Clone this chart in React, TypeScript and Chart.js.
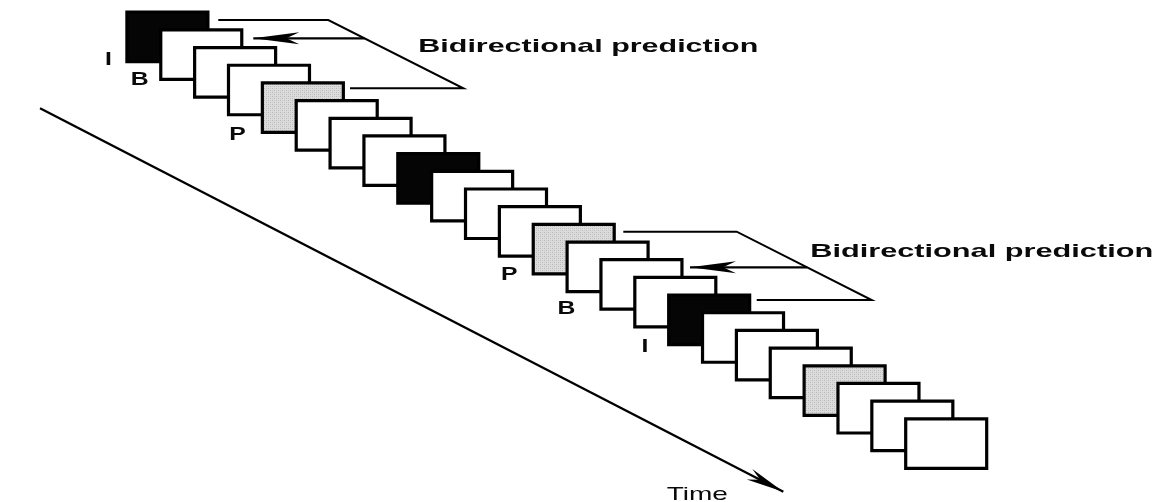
import React, { useEffect, useRef } from "react";
import { Chart, registerables } from "chart.js";

Chart.register(...registerables);

// ---------- data ----------
// frame sequence in time order (both axes advance one unit per frame)
const frameTimes = [0, 1, 2, 3, 4, 5, 6, 7, 8, 9, 10, 11, 12, 13, 14, 15, 16, 17, 18, 19, 20, 21, 22, 23];
const frameTypes = [
  "I", "B", "B", "B", "P", "B", "B", "B",
  "I", "B", "B", "B", "P", "B", "B", "B",
  "I", "B", "B", "B", "P", "B", "B", "B",
];
const frameLabelTexts = ["I", "B", "P", "P", "B", "I"];
const predictionTitles = ["Bidirectional prediction", "Bidirectional prediction"];
const timeAxisTitle = "Time";

// ---------- layout (axis units) ----------
const X_MIN = -3.748;
const X_MAX = 30.658;
const Y_MIN = -0.69;
const Y_MAX = 27.704;
const FRAME_W = 2.392;
const FRAME_H = 2.8;
const labelPos = [
  [-0.549, 2.986],
  [0.378, 4.118],
  [3.266, 7.229],
  [11.291, 15.147],
  [12.98, 17.087],
  [15.301, 19.203],
];
const titlePos = [
  { x: 13.627, y: 2.234, w: 10.04 },
  { x: 25.245, y: 13.829, w: 10.13 },
];
const timeTitlePos = { x: 16.846, y: 27.59, w: 1.81 };
const bracketPaths = [
  [[2.699, 0.441], [5.948, 0.441], [9.935, 4.304], [6.589, 4.304]],
  [[14.66, 12.415], [18.009, 12.415], [21.996, 16.278], [18.6, 16.278]],
];
const arrowPaths = [
  [[7.017, 1.476], [3.733, 1.476]],
  [[20.089, 14.429], [16.63, 14.429]],
];
const timeAxisPath = [[-2.566, 5.436], [19.386, 27.121]];

const FONT = '"Liberation Sans", Arial, Helvetica, sans-serif';

function makeStipple(): CanvasPattern | string {
  const c = document.createElement("canvas");
  c.width = 4;
  c.height = 4;
  const g = c.getContext("2d");
  if (!g) return "#d0d0d0";
  g.fillStyle = "#dcdcdc";
  g.fillRect(0, 0, 4, 4);
  g.fillStyle = "#b8b8b8";
  g.fillRect(0, 0, 1, 1);
  g.fillRect(2, 2, 1, 1);
  g.fillStyle = "#c8c8c8";
  g.fillRect(2, 0, 1, 1);
  g.fillRect(0, 2, 1, 1);
  const p = g.createPattern(c, "repeat");
  return p || "#d0d0d0";
}

function drawHead(ctx: CanvasRenderingContext2D, tx: number, ty: number, fx: number, fy: number, len: number, half: number, notch: number) {
  const ang = Math.atan2(ty - fy, tx - fx);
  ctx.save();
  ctx.translate(tx, ty);
  ctx.rotate(ang);
  ctx.beginPath();
  ctx.moveTo(0, 0);
  ctx.lineTo(-len, -half);
  ctx.lineTo(-notch, 0);
  ctx.lineTo(-len, half);
  ctx.closePath();
  ctx.fillStyle = "#000";
  ctx.fill();
  ctx.restore();
}

function stretchedText(ctx: CanvasRenderingContext2D, text: string, cx: number, baseline: number, font: string, widthPx: number | null, sx: number) {
  ctx.save();
  ctx.font = font;
  ctx.fillStyle = "#0a0a0a";
  ctx.textBaseline = "alphabetic";
  ctx.textAlign = "left";
  const m = ctx.measureText(text).width;
  const scale = widthPx ? widthPx / m : sx;
  ctx.translate(cx - (m * scale) / 2, baseline);
  ctx.scale(scale, 1);
  ctx.fillText(text, 0, 0);
  ctx.restore();
}

const annotationPlugin = {
  id: "diagramAnnotations",
  afterDatasetsDraw(chart: any) {
    const ctx: CanvasRenderingContext2D = chart.ctx;
    const xs = chart.scales.x;
    const ys = chart.scales.y;
    const px = (v: number) => xs.getPixelForValue(v);
    const py = (v: number) => ys.getPixelForValue(v);

    // arrowheads
    arrowPaths.forEach((p) => {
      drawHead(ctx, px(p[1][0]), py(p[1][1]), px(p[0][0]), py(p[0][1]), 46, 6, 33);
    });
    drawHead(ctx, px(timeAxisPath[1][0]), py(timeAxisPath[1][1]), px(timeAxisPath[0][0]), py(timeAxisPath[0][1]), 38, 6, 26);

    // frame type labels
    frameLabelTexts.forEach((t, i) => {
      stretchedText(ctx, t, px(labelPos[i][0]), py(labelPos[i][1]), `bold 19px ${FONT}`, null, 1.3);
    });

    // titles
    predictionTitles.forEach((t, i) => {
      const tp = titlePos[i];
      const w = px(tp.x + tp.w / 2) - px(tp.x - tp.w / 2);
      stretchedText(ctx, t, px(tp.x), py(tp.y), `bold 19px ${FONT}`, w, 1);
    });
    {
      const w = px(timeTitlePos.x + timeTitlePos.w / 2) - px(timeTitlePos.x - timeTitlePos.w / 2);
      stretchedText(ctx, timeAxisTitle, px(timeTitlePos.x), py(timeTitlePos.y), `19px ${FONT}`, w, 1);
    }
  },
};

export default function App() {
  const ref = useRef<HTMLCanvasElement | null>(null);

  useEffect(() => {
    document.body.style.margin = "0";
    document.body.style.background = "#ffffff";
    const canvas = ref.current;
    if (!canvas) return;
    const stipple = makeStipple();

    const fillFor = (t: string) => (t === "I" ? "#050505" : t === "P" ? stipple : "#ffffff");

    const frameSets = frameTimes.map((t, i) => {
      const l = t;
      const top = t;
      const r = t + FRAME_W;
      const b = t + FRAME_H;
      return {
        label: `frame ${i + 1} (${frameTypes[i]})`,
        data: [
          { x: l, y: top },
          { x: r, y: top },
          { x: r, y: b },
          { x: l, y: b },
          { x: l, y: top },
        ],
        showLine: true,
        fill: "shape",
        backgroundColor: fillFor(frameTypes[i]),
        borderColor: "#000000",
        borderWidth: 3.2,
        borderJoinStyle: "miter",
        borderCapStyle: "square",
        pointRadius: 0,
        tension: 0,
        order: 100 - i,
      };
    });

    const lineSet = (pts: number[][], width: number, name: string) => ({
      label: name,
      data: pts.map((p) => ({ x: p[0], y: p[1] })),
      showLine: true,
      fill: false,
      borderColor: "#000000",
      backgroundColor: "#000000",
      borderWidth: width,
      borderJoinStyle: "miter",
      pointRadius: 0,
      tension: 0,
      order: 0,
    });

    const chart = new Chart(canvas, {
      type: "scatter",
      data: {
        datasets: [
          ...frameSets,
          ...bracketPaths.map((p, i) => lineSet(p, 2, `bracket ${i + 1}`)),
          ...arrowPaths.map((p, i) => lineSet(p, 2.2, `arrow ${i + 1}`)),
          lineSet(timeAxisPath, 2.4, "time axis"),
        ] as any,
      },
      options: {
        responsive: false,
        maintainAspectRatio: false,
        animation: false,
        events: [],
        layout: { padding: 0 },
        plugins: {
          legend: { display: false },
          tooltip: { enabled: false },
          title: { display: false },
        },
        scales: {
          x: { type: "linear", display: false, min: X_MIN, max: X_MAX },
          y: { type: "linear", display: false, min: Y_MIN, max: Y_MAX, reverse: true },
        },
      } as any,
      plugins: [annotationPlugin],
    });

    return () => chart.destroy();
  }, []);

  return (
    <div style={{ width: 1165, height: 502, background: "#fff" }}>
      <canvas ref={ref} width={1165} height={502} style={{ display: "block" }} />
    </div>
  );
}
